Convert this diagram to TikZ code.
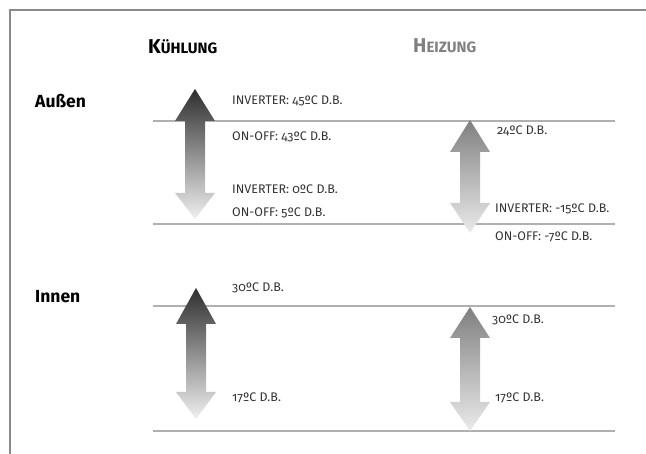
\documentclass[tikz,border=0pt]{standalone}
\usepackage{fontspec}
\setmainfont{Fira Sans}[Numbers=OldStyle]
\newfontfamily\headfont{Fira Sans}
\definecolor{framegray}{HTML}{8A8A8A}
\definecolor{rulegray}{HTML}{B0B0B0}
\definecolor{headgray}{HTML}{808080}
\definecolor{txtgray}{HTML}{333333}
\newcommand\dblarrowshape[7]{%
  \shade[top color=#6, bottom color=#7]
    (#1,#2) -- ({#1+20},#3) -- ({#1+10},#3) -- ({#1+10},#4) -- ({#1+20},#4)
    -- (#1,#5) -- ({#1-20},#4) -- ({#1-10},#4) -- ({#1-10},#3) -- ({#1-20},#3) -- cycle;}
\begin{document}
\begin{tikzpicture}[x=1pt,y=-1pt,
  lbl/.style={anchor=west, inner sep=0pt, font=\fontsize{12.5}{14}\selectfont, text=txtgray},
  rowlbl/.style={anchor=west, inner sep=0pt, font=\fontsize{17.5}{19}\selectfont\bfseries},
  colhead/.style={anchor=west, inner sep=0pt, font=\headfont\bfseries},
  hrule/.style={draw=rulegray, line width=1.1pt}]
\useasboundingbox (0,0) rectangle (646,454);
% frame
\draw[framegray, line width=1.6pt] (646,10) -- (10,10) -- (10,454);
% column heads
\node[colhead] (kuehl) at (148,47) {\fontsize{20}{22}\selectfont K\fontsize{15}{17}\selectfont ÜHLUNG};
\node[colhead, text=headgray] (heiz) at (413,46) {\fontsize{20}{22}\selectfont H\fontsize{15}{17}\selectfont EIZUNG};
% row labels
\node[rowlbl] (aussen) at (35,101) {Außen};
\node[rowlbl] (innen) at (35,297) {Innen};
% rules
\draw[hrule] (153,121) -- (615,121);
\draw[hrule] (153,224) -- (615,224);
\draw[hrule] (153,306) -- (615,306);
\draw[hrule] (153,431) -- (615,431);
% arrows
\dblarrowshape{195}{89}{121}{193}{219}{black!82}{black!6}
\dblarrowshape{470}{120}{152}{203}{233}{black!50}{black!8}
\dblarrowshape{196}{288}{324}{392}{419}{black!82}{black!6}
\dblarrowshape{470}{307}{338}{402}{431}{black!50}{black!8}
% labels
\node[lbl] (t1) at (232,101) {INVERTER: 45ºC D.B.};
\node[lbl] (t2) at (232,137) {ON-OFF: 43ºC D.B.};
\node[lbl] (t3) at (232,189) {INVERTER: 0ºC D.B.};
\node[lbl] (t4) at (232,213) {ON-OFF: 5ºC D.B.};
\node[lbl] (t5) at (497,131) {24ºC D.B.};
\node[lbl] (t6) at (495,209) {INVERTER: -15ºC D.B.};
\node[lbl] (t7) at (495,237) {ON-OFF: -7ºC D.B.};
\node[lbl] (t8) at (232,288) {30ºC D.B.};
\node[lbl] (t9) at (232,398) {17ºC D.B.};
\node[lbl] (t10) at (492,320) {30ºC D.B.};
\node[lbl] (t11) at (495,398) {17ºC D.B.};
\end{tikzpicture}
\end{document}
